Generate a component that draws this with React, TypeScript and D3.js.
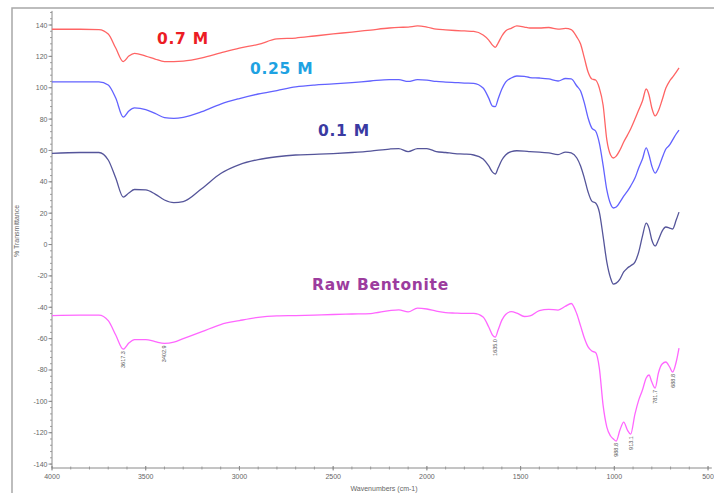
import React from "react";
import * as d3 from "d3";

const wavenumbers = [
  4000, 3850, 3750, 3700, 3660, 3620, 3590, 3560, 3500, 3450, 3400, 3350, 3300, 3200, 3100, 3000,
  2900, 2800, 2700, 2600, 2500, 2400, 2300, 2200, 2150, 2100, 2050, 2000, 1950, 1900, 1850, 1800,
  1750, 1700, 1670, 1650, 1635, 1620, 1600, 1580, 1550, 1520, 1480, 1450, 1400, 1350, 1300, 1260,
  1230, 1200, 1180, 1160, 1140, 1120, 1100, 1080, 1060, 1040, 1020, 1005, 990, 970, 950, 930,
  913, 890, 870, 850, 830, 815, 800, 782, 765, 745, 725, 705, 689, 670, 655,
];

const m07 = [
  137.3, 137.3, 137.1, 134.3, 125.3, 116.7, 120.2, 121.9, 120.2, 118.3, 116.7, 116.7, 117.0, 119.1, 122.3, 125.3,
  127.6, 131.1, 131.7, 133.0, 134.3, 135.5, 136.8, 138.1, 138.5, 138.7, 139.4, 138.7, 137.4, 136.9, 136.5, 136.2,
  135.9, 133.6, 130.4, 127.2, 125.8, 128.5, 133.0, 136.2, 137.9, 139.4, 138.7, 138.1, 138.1, 138.4, 137.4, 137.8,
  137.1, 132.3, 127.9, 119.0, 110.0, 105.6, 104.9, 99.8, 89.0, 66.7, 57.1, 55.2, 56.4, 60.3, 65.4, 69.8,
  73.7, 80.0, 85.8, 91.5, 99.2, 95.4, 87.1, 82.0, 85.2, 92.2, 99.8, 104.3, 106.8, 110.0, 112.6,
];

const m025 = [
  103.8, 103.8, 103.8, 101.7, 93.4, 81.3, 85.2, 87.1, 86.1, 83.6, 81.0, 80.5, 81.1, 84.7, 89.6, 93.1,
  96.0, 98.2, 100.5, 101.7, 102.4, 103.3, 104.3, 105.2, 105.2, 104.0, 105.2, 104.9, 104.0, 103.6, 103.3, 103.0,
  102.8, 99.8, 93.4, 88.3, 88.0, 92.8, 99.2, 103.6, 106.2, 107.5, 107.2, 106.5, 106.2, 105.6, 104.3, 105.9,
  105.6, 101.1, 97.9, 90.3, 80.7, 74.3, 72.4, 64.7, 50.7, 34.8, 25.8, 23.3, 23.9, 27.1, 30.9, 34.1,
  37.3, 42.4, 48.8, 54.5, 61.6, 57.1, 50.1, 45.6, 48.8, 55.2, 60.9, 63.5, 66.7, 70.5, 73.0,
];

const m01 = [
  58.2, 58.7, 58.7, 53.9, 42.4, 30.3, 32.9, 35.1, 34.8, 32.2, 28.4, 26.7, 27.4, 35.8, 45.3, 51.0,
  54.2, 56.0, 57.1, 57.5, 58.0, 58.7, 59.6, 60.9, 61.2, 59.3, 61.2, 61.2, 59.3, 58.7, 58.0, 57.7,
  57.1, 54.5, 50.1, 46.2, 45.0, 48.8, 53.9, 57.1, 59.3, 59.8, 59.6, 59.3, 59.0, 58.4, 57.4, 59.0,
  58.4, 55.2, 50.1, 42.4, 33.5, 27.7, 26.5, 20.7, 5.4, -11.2, -21.4, -25.2, -24.6, -22.0, -17.5, -15.0,
  -13.5, -11.2, -4.8, 5.4, 13.7, 10.5, 2.9, -0.9, 2.9, 8.6, 11.2, 10.5, 9.9, 15.6, 20.7,
];

const rawBentonite = [
  -45.3, -45.0, -45.0, -48.5, -57.7, -66.7, -62.8, -60.6, -60.6, -61.9, -63.0, -62.2, -60.0, -55.6, -51.0, -48.5,
  -46.4, -45.5, -45.3, -45.0, -44.6, -44.3, -44.0, -42.1, -41.6, -43.0, -40.5, -41.1, -42.4, -43.4, -43.7, -43.9,
  -43.9, -46.2, -52.6, -57.7, -59.0, -54.5, -48.2, -44.6, -42.8, -43.7, -45.9, -45.5, -42.1, -41.3, -41.8, -39.3,
  -37.6, -44.3, -51.9, -59.6, -65.3, -67.9, -68.9, -78.8, -102.4, -116.4, -122.1, -124.0, -125.3, -118.3, -113.2, -118.3,
  -120.9, -108.1, -99.2, -92.8, -85.1, -83.2, -87.7, -91.5, -82.0, -76.2, -74.9, -78.1, -81.3, -74.9, -66.0,
];

const xTicks = [4000, 3500, 3000, 2500, 2000, 1500, 1000, 500];
const yTicks = [140, 120, 100, 80, 60, 40, 20, 0, -20, -40, -60, -80, -100, -120, -140];
const peakLabels = ["3617.3", "3402.9", "1635.0", "988.8", "913.1", "781.7", "688.8"];
const peakPositions = [3620, 3400, 1635, 990, 913, 782, 689];

const seriesNames = ["0.7 M", "0.25 M", "0.1 M", "Raw Bentonite"];

export default function App() {
  const W = 714;
  const H = 493;
  const x = d3.scaleLinear().domain([4000, 480]).range([52, 711.8]);
  const y = d3.scaleLinear().domain([-142.5, 149]).range([468, 10.9]);

  const series = [
    { name: seriesNames[0], values: m07, color: "#ff6464", labelColor: "#ec1c24", lx: 157, ly: 44 },
    { name: seriesNames[1], values: m025, color: "#6262ff", labelColor: "#1ea2e2", lx: 250, ly: 74 },
    { name: seriesNames[2], values: m01, color: "#55559a", labelColor: "#3a3aa2", lx: 318, ly: 136 },
    { name: seriesNames[3], values: rawBentonite, color: "#ff66ff", labelColor: "#9c3c9e", lx: 312, ly: 290 },
  ];

  const line = d3
    .line<number>()
    .x((_, i) => x(wavenumbers[i]))
    .y((d) => y(d))
    .curve(d3.curveMonotoneX);

  const xMinor = d3.range(4000, 479, -100);
  const yMinor = d3.range(-140, 149, 4);
  const axisColor = "#8a8a8a";
  const tickFont = "Liberation Sans, Arial, sans-serif";

  return (
    <svg
      width={W}
      height={H}
      style={{ position: "absolute", left: 0, top: 0, background: "#fff" }}
    >
      <rect x={12} y={8} width={720} height={500} fill="#fff" stroke="#a8a8a8" strokeWidth={1.5} />

      {/* y axis */}
      <line x1={52} x2={52} y1={y(149)} y2={y(-142.5)} stroke={axisColor} strokeWidth={1} />
      {yMinor.map((v) => (
        <line key={"ym" + v} x1={50} x2={52} y1={y(v)} y2={y(v)} stroke={axisColor} strokeWidth={0.8} />
      ))}
      {yTicks.map((v) => (
        <g key={"yt" + v}>
          <line x1={48.5} x2={52} y1={y(v)} y2={y(v)} stroke={axisColor} strokeWidth={1} />
          <text
            x={47.5}
            y={y(v) + 2.5}
            textAnchor="end"
            fontSize={7}
            fontFamily={tickFont}
            fill="#666"
          >
            {v}
          </text>
        </g>
      ))}

      {/* x axis */}
      <line x1={52} x2={x(480)} y1={y(-142.5)} y2={y(-142.5)} stroke={axisColor} strokeWidth={1} />
      {xMinor.map((v) => (
        <line key={"xm" + v} x1={x(v)} x2={x(v)} y1={y(-142.5) - 1.5} y2={y(-142.5) + 1.5} stroke={axisColor} strokeWidth={0.8} />
      ))}
      {xTicks.map((v) => (
        <g key={"xt" + v}>
          <line x1={x(v)} x2={x(v)} y1={y(-142.5) - 2} y2={y(-142.5) + 2.5} stroke={axisColor} strokeWidth={1} />
          <text
            x={x(v)}
            y={479}
            textAnchor="middle"
            fontSize={7}
            fontFamily={tickFont}
            fill="#666"
          >
            {v}
          </text>
        </g>
      ))}

      <text x={384} y={491} textAnchor="middle" fontSize={7} fontFamily={tickFont} fill="#666">
        Wavenumbers (cm-1)
      </text>
      <text
        transform={`translate(19,${231}) rotate(-90)`}
        textAnchor="middle"
        fontSize={7}
        fontFamily={tickFont}
        fill="#666"
      >
        % Transmittance
      </text>

      {/* spectra */}
      {series.map((s) => (
        <path key={s.name} d={line(s.values) || ""} fill="none" stroke={s.color} strokeWidth={1.3} strokeLinejoin="round" />
      ))}

      {/* peak labels on raw bentonite */}
      {peakPositions.map((p, i) => {
        const idx = wavenumbers.indexOf(p);
        const px = x(p);
        const py = y(rawBentonite[idx]) + 2;
        return (
          <text
            key={"pk" + i}
            transform={`translate(${px + 2},${py}) rotate(-90)`}
            textAnchor="end"
            fontSize={5.5}
            fontFamily={tickFont}
            fill="#555"
          >
            {peakLabels[i]}
          </text>
        );
      })}

      {/* series labels */}
      {series.map((s) => (
        <text
          key={"lb" + s.name}
          x={s.lx}
          y={s.ly}
          fontSize={15.5}
          fontWeight="bold"
          fontFamily="DejaVu Sans, Verdana, sans-serif"
          letterSpacing={0.7}
          fill={s.labelColor}
        >
          {s.name}
        </text>
      ))}
    </svg>
  );
}
